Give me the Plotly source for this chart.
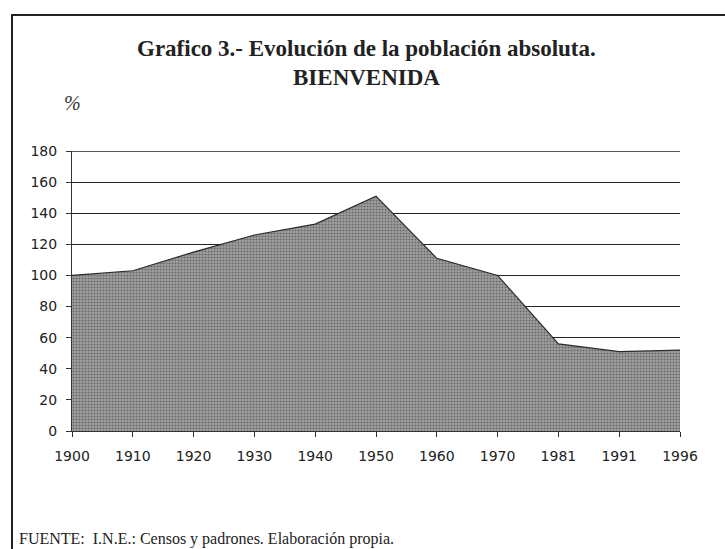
import plotly.graph_objects as go

years = ["1900", "1910", "1920", "1930", "1940", "1950", "1960", "1970", "1981", "1991", "1996"]
poblacion = [100, 103, 115, 126, 133, 151, 111, 100, 56, 51, 52]
y_ticks = [0, 20, 40, 60, 80, 100, 120, 140, 160, 180]

W, H = 725, 549
L, R, T, B = 72, 45, 151, 118
pw = W - L - R
ph = H - T - B

def px(x):
    return (x - L) / pw

def py(y):
    return (H - B - y) / ph

fig = go.Figure()
fig.add_trace(go.Scatter(
    x=years, y=poblacion, mode="lines",
    line=dict(color="#2a2a2a", width=1.2),
    fill="tozeroy",
    fillcolor="#8a8a8a",
    fillpattern=dict(shape=".", bgcolor="#a0a0a0", fgcolor="#333333", size=3, solidity=0.4),
    hoverinfo="x+y", showlegend=False,
))

top_grid = y_ticks[-1]

fig.update_layout(
    width=W, height=H,
    margin=dict(l=L, r=R, t=T, b=B),
    paper_bgcolor="white", plot_bgcolor="white",
    font=dict(family="DejaVu Sans", color="#222"),
    xaxis=dict(
        type="category", range=[0, len(years) - 1],
        showgrid=False, showline=True, linecolor="#333", linewidth=1,
        ticks="outside", ticklen=5, tickcolor="#333",
        ticklabelstandoff=7,
        tickfont=dict(size=14, family="DejaVu Sans", color="#222"),
        zeroline=False,
    ),
    yaxis=dict(
        range=[0, top_grid], tickvals=y_ticks,
        showgrid=True, gridcolor="#222", gridwidth=1.3,
        showline=True, linecolor="#333", linewidth=1,
        ticks="outside", ticklen=5, tickcolor="#333",
        ticklabelstandoff=6,
        tickfont=dict(size=14, family="DejaVu Sans", color="#222"),
        zeroline=False,
    ),
    shapes=[
        dict(type="line", xref="paper", yref="y", x0=0, x1=1, y0=top_grid, y1=top_grid,
             line=dict(color="#222", width=1.3), layer="below"),
        dict(type="rect", xref="paper", yref="paper",
             x0=px(12), x1=px(760), y0=py(600), y1=py(15),
             line=dict(color="#222", width=2), fillcolor="rgba(0,0,0,0)", layer="above"),
    ],
    annotations=[
        dict(text="<b>Grafico 3.- Evolución de la población absoluta.</b>",
             xref="paper", yref="paper", x=px(366), y=py(48),
             xanchor="center", yanchor="middle", showarrow=False,
             font=dict(family="Liberation Serif", size=23, color="#222")),
        dict(text="<b>BIENVENIDA</b>",
             xref="paper", yref="paper", x=px(366), y=py(77),
             xanchor="center", yanchor="middle", showarrow=False,
             font=dict(family="Liberation Serif", size=23, color="#222")),
        dict(text="<i>%</i>",
             xref="paper", yref="paper", x=px(72), y=py(103),
             xanchor="center", yanchor="middle", showarrow=False,
             font=dict(family="Liberation Serif", size=20, color="#333")),
        dict(text="FUENTE:  I.N.E.: Censos y padrones. Elaboración propia.",
             xref="paper", yref="paper", x=px(17), y=py(539),
             xanchor="left", yanchor="middle", showarrow=False,
             font=dict(family="Liberation Serif", size=16, color="#222")),
    ],
)

fig.write_html("out.html", config={"displayModeBar": False},
               post_script="document.body.style.margin='0';document.body.style.overflow='hidden';")
